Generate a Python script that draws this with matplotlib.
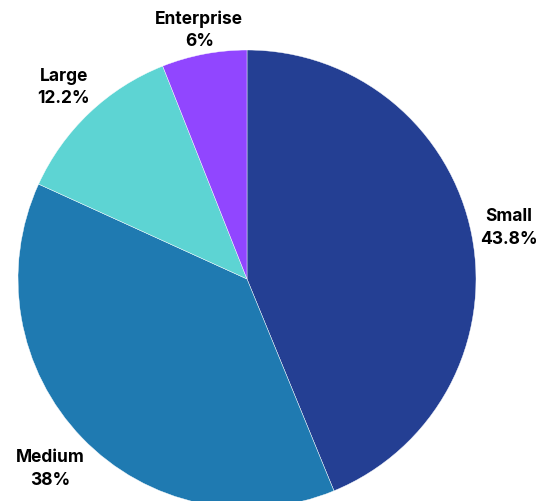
import numpy as np
import matplotlib
matplotlib.use("Agg")
import matplotlib.pyplot as plt

segments = ["Small", "Medium", "Large", "Enterprise"]
shares = [43.8, 38.0, 12.2, 6.0]
share_labels = ["43.8%", "38%", "12.2%", "6%"]
colors = ["#243f93", "#1f7ab1", "#5dd4d3", "#9146ff"]
label_radius = [1.165, 1.19, 1.16, 1.11]

W, H = 538, 502
fig = plt.figure(figsize=(W / 100, H / 100), dpi=100)
ax = fig.add_axes([0, 0, 1, 1])

cx, cy, r = 247, H - 280, 229
wedges, _ = ax.pie(shares, colors=colors, startangle=90, counterclock=False,
                   center=(cx, cy), radius=r, frame=True,
                   wedgeprops=dict(edgecolor="white", linewidth=0.3))
ax.set_xlim(0, W)
ax.set_ylim(0, H)
ax.set_aspect("equal")
ax.axis("off")

for w, name, lab, d in zip(wedges, segments, share_labels, label_radius):
    mid = np.deg2rad((w.theta1 + w.theta2) / 2)
    x = cx + r * d * np.cos(mid)
    y = cy + r * d * np.sin(mid)
    ax.text(x, y, f"{name}\n{lab}", ha="center", va="center",
            fontsize=12.5, fontweight="bold", family=["Inter", "DejaVu Sans"],
            color="black", linespacing=1.45)

fig.savefig("out.png", dpi=100)
